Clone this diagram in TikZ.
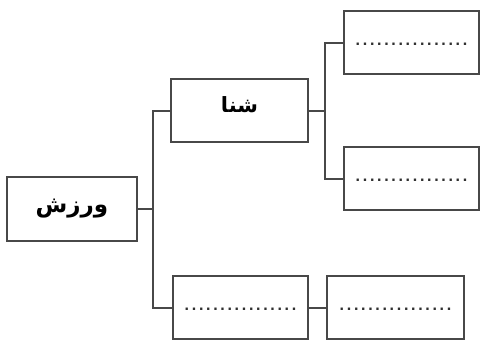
\documentclass[tikz,border=0pt]{standalone}
\usepackage{fontspec}
\TeXXeTstate=1
\newfontfamily\arabicfont[Script=Arabic]{DejaVu Sans}
\newfontfamily\dotfont{DejaVu Sans}
\definecolor{edge}{HTML}{484848}
\definecolor{dotc}{HTML}{303030}
\newcommand\dotrow{\raisebox{-2.5pt}[0pt][0pt]{\dotfont\bfseries\fontsize{13}{13}\selectfont\color{dotc}%
.\kern2.2pt.\kern2.2pt.\kern2.2pt.\kern2.2pt.\kern2.2pt.\kern2.2pt.\kern2.2pt.\kern2.2pt%
.\kern2.2pt.\kern2.2pt.\kern2.2pt.\kern2.2pt.\kern2.2pt.\kern2.2pt.\kern2.2pt.}}
\begin{document}
\begin{tikzpicture}[x=1pt,y=-1pt,
  box/.style={draw=edge,line width=2pt,fill=white,inner sep=0pt,anchor=north west},
  conn/.style={draw=edge,line width=2pt}]
\useasboundingbox (0,0) rectangle (480,340);
\node[box,minimum width=130pt,minimum height=64pt] (sport) at (6,176)
  {\arabicfont\bfseries\fontsize{23}{23}\selectfont\beginR ورزش\endR};
\node[box,minimum width=137pt,minimum height=63pt] (swim) at (170,78)
  {\raisebox{12pt}{\arabicfont\bfseries\fontsize{21}{21}\selectfont\beginR شنا\endR}};
\node[box,minimum width=135pt,minimum height=63pt] (r1) at (343,10) {\dotrow};
\node[box,minimum width=135pt,minimum height=63pt] (r2) at (343,146) {\dotrow};
\node[box,minimum width=135pt,minimum height=63pt] (b1) at (172,275) {\dotrow};
\node[box,minimum width=137pt,minimum height=63pt] (b2) at (326,275) {\dotrow};
\coordinate (j1) at (153,0);
\coordinate (j2) at (325,0);
\draw[conn] (sport.east) -- (sport.east -| j1);
\draw[conn] (swim.west) -| (b1.west -| j1) -- (b1.west);
\draw[conn] (swim.east) -- (swim.east -| j2);
\draw[conn] (r1.west) -| (r2.west -| j2) -- (r2.west);
\draw[conn] (b1.east) -- (b2.west);
\end{tikzpicture}
\end{document}
